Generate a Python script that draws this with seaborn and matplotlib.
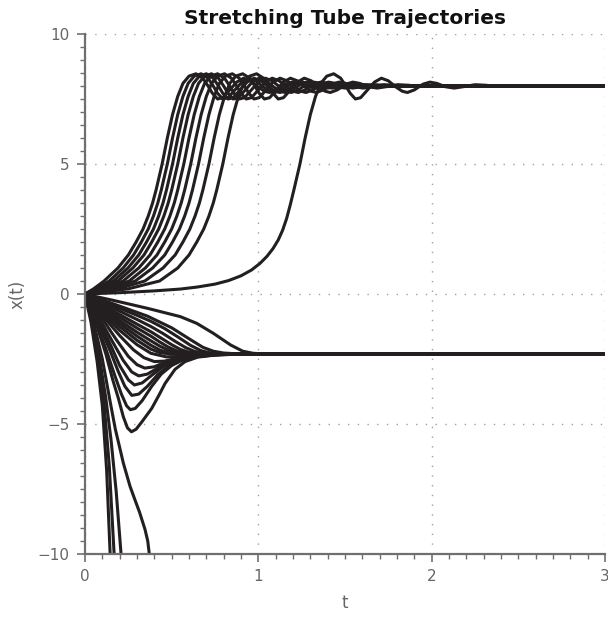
import matplotlib
matplotlib.use("Agg")
import matplotlib.pyplot as plt
import pandas as pd
import seaborn as sns
from matplotlib.ticker import MultipleLocator

# ---------------- data ----------------
# Upper family (settles at 8): rise part (t, x) and oscillating tail (t, x)
rise_x = [0, 0.2, 0.5, 1.0, 1.5, 2.0, 2.5, 3.0, 3.5, 4.0]
tail_x = [5.0, 6.0, 6.9, 7.6, 8.1, 8.38, 8.47, 8.3, 8.0, 7.72, 7.5, 7.55, 7.85, 8.15, 8.3,
          8.2, 7.98, 7.8, 7.75, 7.85, 8.07, 8.15, 8.1, 7.97, 7.92, 7.98, 8.05, 8.03, 7.98, 8.0, 8.0]

u1_rise_t = [0, .05, .11, .19, .25, .295, .335, .365, .39, .41]
u1_tail_t = [0.445, 0.475, 0.505, 0.535, 0.565, 0.6, 0.64, 0.68, 0.71, 0.735, 0.765, 0.795, 0.835, 0.875, 0.915,
             0.955, 0.995, 1.035, 1.065, 1.105, 1.155, 1.195, 1.235, 1.285, 1.335, 1.395, 1.455, 1.515, 1.585, 1.665, 3.0]
u2_rise_t = [0, .065, .14, .22, .28, .325, .365, .395, .42, .44]
u2_tail_t = [0.475, 0.505, 0.535, 0.565, 0.595, 0.63, 0.67, 0.71, 0.74, 0.765, 0.795, 0.825, 0.865, 0.905, 0.945,
             0.985, 1.025, 1.065, 1.095, 1.135, 1.185, 1.225, 1.265, 1.315, 1.365, 1.425, 1.485, 1.545, 1.615, 1.695, 3.0]
u3_rise_t = [0, .075, .165, .248, .31, .355, .395, .425, .45, .47]
u3_tail_t = [0.505, 0.535, 0.565, 0.595, 0.625, 0.66, 0.7, 0.74, 0.77, 0.795, 0.825, 0.855, 0.895, 0.935, 0.975,
             1.015, 1.055, 1.095, 1.125, 1.165, 1.215, 1.255, 1.295, 1.345, 1.395, 1.455, 1.515, 1.575, 1.645, 1.725, 3.0]
u4_rise_t = [0, .09, .19, .276, .34, .385, .425, .455, .48, .50]
u4_tail_t = [0.535, 0.565, 0.595, 0.625, 0.655, 0.69, 0.73, 0.77, 0.8, 0.825, 0.855, 0.885, 0.925, 0.965, 1.005,
             1.045, 1.085, 1.125, 1.155, 1.195, 1.245, 1.285, 1.325, 1.375, 1.425, 1.485, 1.545, 1.605, 1.675, 1.755, 3.0]
u5_rise_t = [0, .11, .22, .31, .375, .42, .46, .49, .515, .535]
u5_tail_t = [0.57, 0.6, 0.63, 0.66, 0.69, 0.725, 0.765, 0.805, 0.835, 0.86, 0.89, 0.92, 0.96, 1.0, 1.04,
             1.08, 1.12, 1.16, 1.19, 1.23, 1.28, 1.32, 1.36, 1.41, 1.46, 1.52, 1.58, 1.64, 1.71, 1.79, 3.0]
u6_rise_t = [0, .13, .255, .348, .415, .46, .5, .53, .555, .575]
u6_tail_t = [0.61, 0.64, 0.67, 0.7, 0.73, 0.765, 0.805, 0.845, 0.875, 0.9, 0.93, 0.96, 1.0, 1.04, 1.08,
             1.12, 1.16, 1.2, 1.23, 1.27, 1.32, 1.36, 1.4, 1.45, 1.5, 1.56, 1.62, 1.68, 1.75, 1.83, 3.0]
u7_rise_t = [0, .155, .29, .39, .46, .505, .545, .575, .60, .62]
u7_tail_t = [0.655, 0.685, 0.715, 0.745, 0.775, 0.81, 0.85, 0.89, 0.92, 0.945, 0.975, 1.005, 1.045, 1.085, 1.125,
             1.165, 1.205, 1.245, 1.275, 1.315, 1.365, 1.405, 1.445, 1.495, 1.545, 1.605, 1.665, 1.725, 1.795, 1.875, 3.0]
u8_rise_t = [0, .19, .345, .45, .52, .565, .605, .635, .66, .68]
u8_tail_t = [0.715, 0.745, 0.775, 0.805, 0.835, 0.87, 0.91, 0.95, 0.98, 1.005, 1.035, 1.065, 1.105, 1.145, 1.185,
             1.225, 1.265, 1.305, 1.335, 1.375, 1.425, 1.465, 1.505, 1.555, 1.605, 1.665, 1.725, 1.785, 1.855, 1.935, 3.0]
u9_rise_t = [0, .25, .43, .535, .6, .645, .685, .715, .74, .76]
u9_tail_t = [0.795, 0.825, 0.855, 0.885, 0.915, 0.95, 0.99, 1.03, 1.06, 1.085, 1.115, 1.145, 1.185, 1.225, 1.265,
             1.305, 1.345, 1.385, 1.415, 1.455, 1.505, 1.545, 1.585, 1.635, 1.685, 1.745, 1.805, 1.865, 1.935, 2.015, 3.0]
u10_rise_t = [0, .2, .4, .55, .65, .75, .83, .9, .96, 1.01, 1.05, 1.085, 1.115, 1.14, 1.163, 1.185, 1.205]
u10_rise_x = [0, .05, .12, .19, .27, .38, .52, .7, .92, 1.18, 1.45, 1.75, 2.08, 2.45, 2.9, 3.45, 4.0]
u10_tail_t = [1.24, 1.27, 1.3, 1.33, 1.36, 1.395, 1.435, 1.475, 1.505, 1.53, 1.56, 1.59, 1.63, 1.67, 1.71,
              1.75, 1.79, 1.83, 1.86, 1.9, 1.95, 1.99, 2.03, 2.08, 2.13, 2.19, 2.25, 2.31, 2.38, 2.46, 3.0]

# Lower family approaching -2.3 from above
a1_t = [0, 0.05, 0.16, 0.36, 0.55, 0.645, 0.74, 0.84, 0.91, 0.97, 1.05, 1.2, 3.0]
a1_x = [0, -0.08, -0.24, -0.55, -0.87, -1.13, -1.51, -1.96, -2.2, -2.28, -2.31, -2.3, -2.3]
a2_t = [0, 0.05, 0.16, 0.36, 0.5, 0.6, 0.68, 0.74, 0.8, 0.9, 1.1, 3.0]
a2_x = [0, -0.12, -0.37, -0.85, -1.3, -1.72, -2.05, -2.2, -2.27, -2.31, -2.3, -2.3]
a3_t = [0, .1, .2, .3, .38, .46, .54, .61, .67, .73, .82, 1.0, 3.0]
a3_x = [0, -.27, -.55, -.82, -1.05, -1.33, -1.67, -1.98, -2.18, -2.28, -2.32, -2.31, -2.3]
a4_t = [0, .1, .2, .3, .38, .45, .52, .58, .63, .68, .78, 1.0, 3.0]
a4_x = [0, -.33, -.66, -.98, -1.25, -1.52, -1.82, -2.06, -2.2, -2.28, -2.32, -2.31, -2.3]
a5_t = [0, .1, .2, .3, .38, .44, .5, .55, .6, .66, .76, 1.0, 3.0]
a5_x = [0, -.4, -.79, -1.16, -1.45, -1.7, -1.95, -2.13, -2.24, -2.3, -2.32, -2.31, -2.3]
a6_t = [0, .1, .2, .3, .38, .43, .48, .53, .58, .65, .75, 1.0, 3.0]
a6_x = [0, -.46, -.9, -1.31, -1.62, -1.84, -2.04, -2.19, -2.27, -2.31, -2.32, -2.31, -2.3]
a7_t = [0, .1, .2, .3, .38, .43, .48, .53, .59, .7, 1.0, 3.0]
a7_x = [0, -.52, -1.02, -1.47, -1.8, -2.0, -2.16, -2.26, -2.31, -2.32, -2.31, -2.3]
a8_t = [0, .1, .2, .3, .38, .43, .48, .54, .65, 1.0, 3.0]
a8_x = [0, -.58, -1.13, -1.62, -1.97, -2.15, -2.26, -2.31, -2.32, -2.31, -2.3]
a9_t = [0, .1, .2, .3, .38, .43, .49, .6, 1.0, 3.0]
a9_x = [0, -.64, -1.25, -1.78, -2.12, -2.25, -2.31, -2.33, -2.31, -2.3]

# Lower family dipping below -2.3 then returning
b1_t = [0, .1, .2, .3, .38, .47, .56, .65, .8, 1.0, 3.0]
b1_x = [0, -.72, -1.4, -1.95, -2.28, -2.42, -2.4, -2.35, -2.31, -2.3, -2.3]
b2_t = [0, .1, .2, .28, .34, .4, .46, .53, .62, .75, 1.0, 3.0]
b2_x = [0, -.82, -1.6, -2.15, -2.45, -2.6, -2.58, -2.47, -2.37, -2.32, -2.3, -2.3]
b3_t = [0, .1, .18, .25, .3, .345, .4, .46, .53, .62, .75, 1.0, 3.0]
b3_x = [0, -.95, -1.75, -2.4, -2.72, -2.85, -2.8, -2.63, -2.47, -2.37, -2.32, -2.3, -2.3]
b4_t = [0, .08, .16, .22, .27, .31, .36, .42, .48, .56, .66, .8, 1.0, 3.0]
b4_x = [0, -.9, -1.85, -2.55, -3.0, -3.15, -3.08, -2.85, -2.62, -2.45, -2.36, -2.31, -2.3, -2.3]
b5_t = [0, .08, .15, .2, .25, .285, .33, .39, .45, .52, .6, .7, .85, 3.0]
b5_x = [0, -1.0, -2.0, -2.75, -3.3, -3.5, -3.42, -3.1, -2.8, -2.55, -2.42, -2.35, -2.31, -2.3]
b6_t = [0, .07, .14, .19, .23, .27, .31, .36, .42, .48, .55, .63, .75, .9, 3.0]
b6_x = [0, -1.0, -2.1, -2.95, -3.55, -3.9, -3.85, -3.55, -3.1, -2.78, -2.55, -2.42, -2.34, -2.31, -2.3]
b7_t = [0, .06, .12, .17, .21, .24, .262, .29, .33, .385, .44, .5, .57, .65, .78, .95, 3.0]
b7_x = [0, -1.0, -2.1, -3.1, -3.85, -4.3, -4.45, -4.4, -4.1, -3.55, -3.08, -2.75, -2.52, -2.4, -2.33, -2.3, -2.3]
b8_t = [0, .06, .12, .16, .192, .221, .245, .268, .295, .33, .385, .43, .462, .519, .577, .65, .75, .9, 3.0]
b8_x = [0, -1.05, -2.3, -3.3, -4.0, -4.72, -5.15, -5.3, -5.2, -4.9, -4.4, -3.85, -3.44, -2.9, -2.6, -2.43, -2.35, -2.31, -2.3]

# Diverging trajectories
d1_t = [0, .035, .07, .1, .125, .145, .15]
d1_x = [0, -1.1, -2.6, -4.3, -6.8, -10.0, -10.8]
d2_t = [0, .04, .08, .11, .14, .168, .174]
d2_x = [0, -1.1, -2.6, -4.2, -6.6, -10.0, -10.8]
d3_t = [0, .04, .08, .12, .15, .18, .208, .215]
d3_x = [0, -1.0, -2.3, -4.0, -5.6, -7.6, -10.0, -10.6]
d4_t = [0, .05, .1, .144, .175, .2, .221, .26, .29, .315, .346, .362, .371, .38]
d4_x = [0, -1.1, -2.5, -4.1, -5.2, -5.9, -6.5, -7.4, -7.95, -8.4, -9.05, -9.5, -10.0, -10.6]

x_ticks = [0, 1, 2, 3]
y_ticks = [-10, -5, 0, 5, 10]
title = "Stretching Tube Trajectories"
x_label = "t"
y_label = "x(t)"

# ---------------- assemble ----------------
curves = {
    "u1": (u1_rise_t + u1_tail_t, rise_x + tail_x),
    "u2": (u2_rise_t + u2_tail_t, rise_x + tail_x),
    "u3": (u3_rise_t + u3_tail_t, rise_x + tail_x),
    "u4": (u4_rise_t + u4_tail_t, rise_x + tail_x),
    "u5": (u5_rise_t + u5_tail_t, rise_x + tail_x),
    "u6": (u6_rise_t + u6_tail_t, rise_x + tail_x),
    "u7": (u7_rise_t + u7_tail_t, rise_x + tail_x),
    "u8": (u8_rise_t + u8_tail_t, rise_x + tail_x),
    "u9": (u9_rise_t + u9_tail_t, rise_x + tail_x),
    "u10": (u10_rise_t + u10_tail_t, u10_rise_x + tail_x),
    "a1": (a1_t, a1_x), "a2": (a2_t, a2_x), "a3": (a3_t, a3_x), "a4": (a4_t, a4_x),
    "a5": (a5_t, a5_x), "a6": (a6_t, a6_x), "a7": (a7_t, a7_x), "a8": (a8_t, a8_x),
    "a9": (a9_t, a9_x),
    "b1": (b1_t, b1_x), "b2": (b2_t, b2_x), "b3": (b3_t, b3_x), "b4": (b4_t, b4_x),
    "b5": (b5_t, b5_x), "b6": (b6_t, b6_x), "b7": (b7_t, b7_x), "b8": (b8_t, b8_x),
    "d1": (d1_t, d1_x), "d2": (d2_t, d2_x), "d3": (d3_t, d3_x), "d4": (d4_t, d4_x),
}
rows = []
for name, (ts, xs) in curves.items():
    for i, (ti, xi) in enumerate(zip(ts, xs)):
        rows.append((name, i, ti, xi))
df = pd.DataFrame(rows, columns=["curve", "order", "t", "x"])

sns.set_style("white")
plt.rcParams["font.family"] = ["DejaVu Sans"]
plt.rcParams["lines.solid_joinstyle"] = "round"
plt.rcParams["lines.solid_capstyle"] = "butt"

fig = plt.figure(figsize=(6.08, 6.18), dpi=100)
ax = fig.add_axes([85 / 608, 1 - 554 / 618, 520 / 608, 520 / 618])

sns.lineplot(data=df, x="t", y="x", units="curve", estimator=None, sort=False,
             color="#231f20", lw=2.2, ax=ax, legend=False, zorder=3)

ax.set_xlim(0, 3)
ax.set_ylim(-10, 10)
ax.set_xticks(x_ticks)
ax.set_yticks(y_ticks)
ax.xaxis.set_minor_locator(MultipleLocator(0.1))
ax.yaxis.set_minor_locator(MultipleLocator(0.5))

grey = "#6f6f6f"
for side in ["top", "right"]:
    ax.spines[side].set_visible(False)
for side in ["left", "bottom"]:
    ax.spines[side].set_color(grey)
    ax.spines[side].set_linewidth(1.6)
    ax.spines[side].set_zorder(4)

ax.tick_params(which="major", direction="out", length=6, width=1.2, color=grey,
               labelcolor="#666666", labelsize=11, pad=5)
ax.tick_params(which="minor", direction="out", length=3.5, width=1.0, color=grey)
ax.tick_params(axis="both", which="both", bottom=True, left=True, top=False, right=False)

ax.grid(True, which="major", linestyle=(0, (1, 6)), color="#a0a0a0", linewidth=1.0, zorder=0)
ax.set_axisbelow(True)

ax.set_title(title, fontsize=14.5, fontweight="bold", color="#111111", pad=7)
ax.set_xlabel(x_label, fontsize=12, color="#666666", labelpad=7)
ax.set_ylabel(y_label, fontsize=12, color="#666666", labelpad=8)

fig.savefig("out.png", dpi=100)
